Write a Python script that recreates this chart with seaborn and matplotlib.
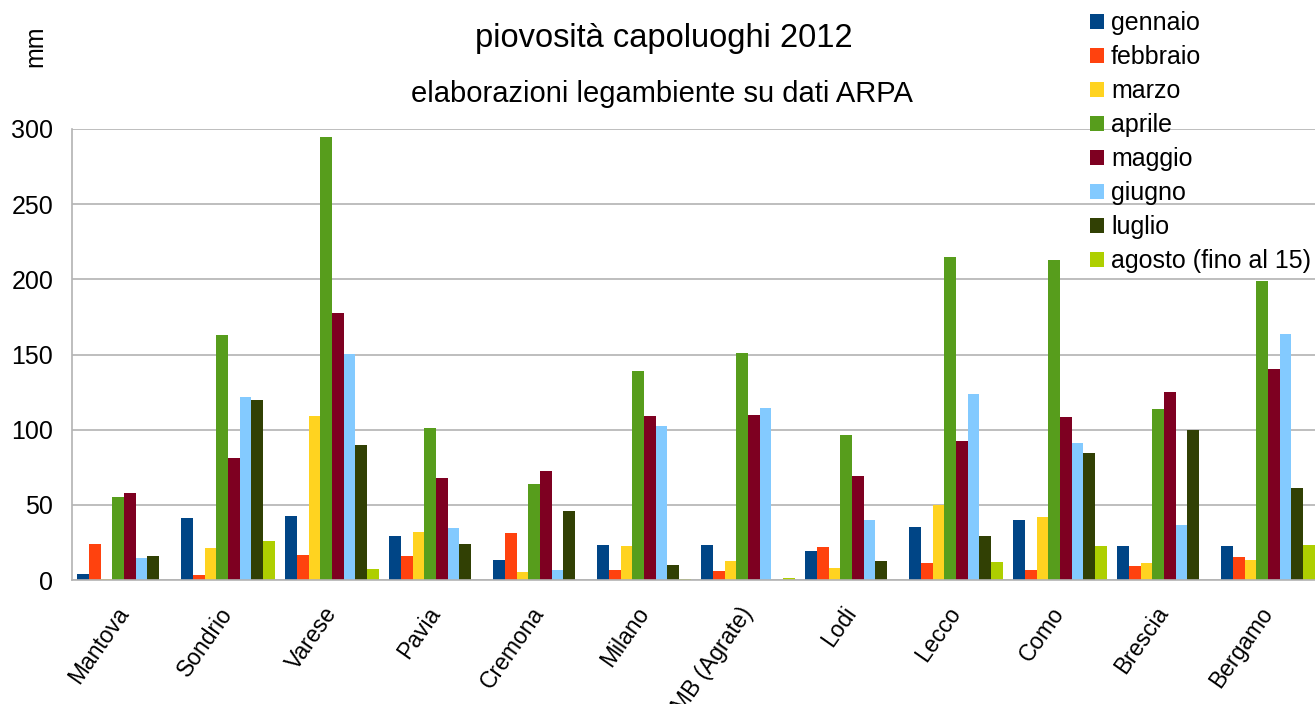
import matplotlib
matplotlib.use("Agg")
import matplotlib.pyplot as plt
import seaborn as sns
import pandas as pd
import numpy as np

# rainfall (mm) per capoluogo, 2012
cities = ["Mantova", "Sondrio", "Varese", "Pavia", "Cremona", "Milano",
          "MB (Agrate)", "Lodi", "Lecco", "Como", "Brescia", "Bergamo"]
months = ["gennaio", "febbraio", "marzo", "aprile", "maggio", "giugno",
          "luglio", "agosto (fino al 15)"]

gennaio = [4.2, 41.5, 42.8, 29.5, 13.5, 23.5, 23.5, 19.5, 35.5, 40.1, 22.3, 22.3]
febbraio = [24.2, 3.5, 16.9, 16.2, 31.5, 6.9, 6.2, 22.2, 11.5, 6.9, 9.0, 15.5]
marzo = [0.5, 21.5, 109.3, 32.2, 5.5, 22.8, 12.9, 8.2, 50.1, 42.2, 11.5, 13.5]
aprile = [55.4, 163.2, 294.5, 101.3, 64.1, 139.2, 151.2, 96.7, 215.1, 213.1, 114.0, 199.0]
maggio = [58.1, 81.4, 177.8, 68.1, 72.7, 109.3, 110.0, 69.4, 92.7, 108.5, 125.3, 140.5]
giugno = [14.9, 122.0, 150.3, 34.8, 6.9, 102.7, 114.6, 40.1, 124.0, 91.3, 36.8, 163.8]
luglio = [16.2, 120.0, 90.0, 24.2, 46.1, 10.2, 0.0, 12.9, 29.5, 84.8, 100.0, 61.5]
agosto = [0.0, 26.2, 7.5, 0.0, 0.0, 0.5, 1.6, 0.0, 12.2, 22.3, 0.0, 23.0]

colors = ["#004586", "#ff420e", "#ffd320", "#579d1c",
          "#7e0021", "#83caff", "#314004", "#aecf00"]

series = [gennaio, febbraio, marzo, aprile, maggio, giugno, luglio, agosto]
rows = []
for m, vals in zip(months, series):
    for c, v in zip(cities, vals):
        rows.append({"city": c, "month": m, "mm": v})
df = pd.DataFrame(rows)

sns.set_style("white")
plt.rcParams["font.family"] = ["Liberation Sans", "DejaVu Sans"]
plt.rcParams["text.color"] = "black"
plt.rcParams["xtick.labelcolor"] = "black"
plt.rcParams["ytick.labelcolor"] = "black"

W, H = 1315, 704
fig = plt.figure(figsize=(W / 100, H / 100), dpi=100)
ax = fig.add_axes([72 / W, (H - 580) / H, 1248 / W, 451 / H])

sns.barplot(data=df, x="city", y="mm", hue="month", order=cities,
            hue_order=months, palette=colors, saturation=1, width=0.9,
            linewidth=0, ax=ax)

ax.set_ylim(0, 300)
ax.set_xlim(-0.5, len(cities) - 0.5)
ax.set_yticks(np.arange(0, 301, 50))
ax.yaxis.grid(True, color="#b3b3b3", linewidth=1.2)
ax.set_axisbelow(True)
for s in ["top", "right"]:
    ax.spines[s].set_visible(False)
for s in ["left", "bottom"]:
    ax.spines[s].set_color("#b3b3b3")
    ax.spines[s].set_linewidth(1.2)

ax.tick_params(axis="y", length=8.5, width=1.2, color="#b3b3b3",
               labelsize=18, pad=5)
ax.set_xticks(np.arange(len(cities)))
ax.set_xticklabels(cities, rotation=55, ha="right", va="center",
                   rotation_mode="anchor", fontsize=16.5)
ax.tick_params(axis="x", which="major", length=0, pad=21)
ax.set_xticks(np.arange(len(cities) + 1) - 0.5, minor=True)
ax.tick_params(axis="x", which="minor", length=8, width=1.2, color="#b3b3b3")
ax.set_xlabel("")
ax.set_ylabel("")

fig.text(35 / W, 1 - 46 / H, "mm", rotation=90, ha="center", va="center",
         fontsize=18)
fig.text(664 / W, 1 - 38 / H, "piovosità capoluoghi 2012", ha="center",
         va="center", fontsize=23.5)
fig.text(662 / W, 1 - 94 / H, "elaborazioni legambiente su dati ARPA",
         ha="center", va="center", fontsize=21)

handles, labels = ax.get_legend_handles_labels()
ax.legend(handles, labels, loc="upper left",
          bbox_to_anchor=(1090 / W, 1 - 11 / H), bbox_transform=fig.transFigure,
          frameon=False, fontsize=18, borderpad=0, labelspacing=0.4,
          handlelength=0.56, handleheight=0.56, handletextpad=0.28,
          borderaxespad=0)

fig.savefig("out.png", dpi=100)
